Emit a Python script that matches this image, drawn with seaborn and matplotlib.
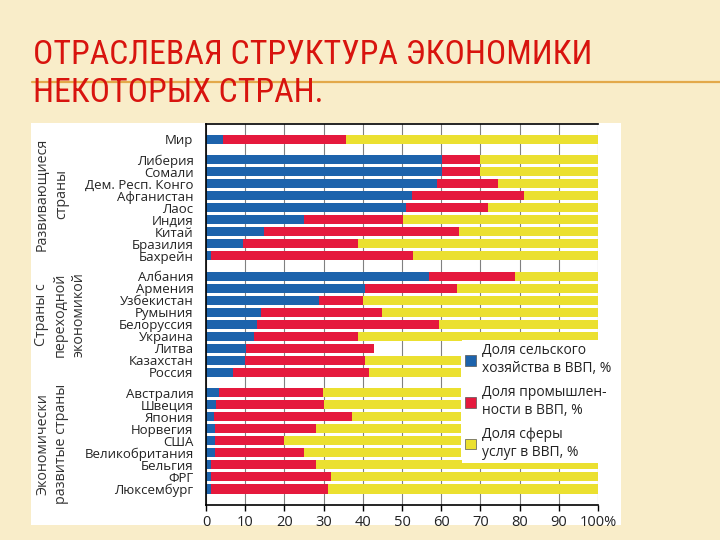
import numpy as np
import pandas as pd
import seaborn as sns
import matplotlib.pyplot as plt
from matplotlib.patches import Rectangle, Patch
from matplotlib.lines import Line2D

sns.set_style('white')
plt.rcParams['font.family'] = ['Open Sans', 'DejaVu Sans']

# shares of GDP, %
countries = ['Мир',
             'Либерия', 'Сомали', 'Дем. Респ. Конго', 'Афганистан', 'Лаос',
             'Индия', 'Китай', 'Бразилия', 'Бахрейн',
             'Албания', 'Армения', 'Узбекистан', 'Румыния', 'Белоруссия',
             'Украина', 'Литва', 'Казахстан', 'Россия',
             'Австралия', 'Швеция', 'Япония', 'Норвегия', 'США',
             'Великобритания', 'Бельгия', 'ФРГ', 'Люксембург']
groups = (['world'] + ['developing'] * 9 + ['transition'] * 9 + ['developed'] * 9)
agri = [4.3,
        60.3, 60.3, 59.0, 52.6, 51.0, 25.0, 14.7, 9.4, 1.3,
        57.0, 40.5, 28.7, 14.0, 13.0, 12.2, 10.2, 10.0, 7.0,
        3.2, 2.6, 2.1, 2.3, 2.3, 2.3, 1.3, 1.4, 1.4]
industry = [31.5,
            9.6, 9.7, 15.4, 28.4, 21.0, 25.3, 49.9, 29.5, 51.6,
            21.7, 23.5, 11.3, 31.0, 46.5, 26.6, 32.6, 30.5, 34.5,
            26.6, 27.4, 35.1, 25.8, 17.5, 22.7, 26.8, 30.6, 29.8]
# visible part of the services bar (rows under the legend are cut at 65 %)
services = [64.2,
            30.1, 30.0, 25.6, 19.0, 28.0, 49.7, 35.4, 61.1, 47.1,
            21.3, 36.0, 60.0, 55.0, 40.5, 61.2, 0.0, 24.5, 23.5,
            35.2, 35.0, 27.8, 36.9, 45.2, 40.0, 71.9, 68.0, 68.8]

blue = '#1d63ac'
red = '#e5193d'
yellow = '#ebe030'
bg = '#f9edc9'

df = pd.DataFrame({'country': countries, 'group': groups,
                   'agri': agri, 'industry': industry, 'services': services})
# one step per row plus an extra gap between groups
df['pos'] = np.arange(len(df)) + 0.7 * pd.factorize(df['group'])[0]
df['ind_end'] = df['agri'] + df['industry']
df['serv_end'] = df['ind_end'] + df['services']

fig = plt.figure(figsize=(7.2, 5.4), dpi=100, facecolor=bg)
fig.patches.append(Rectangle((31 / 720, 15 / 540), 590 / 720, 402 / 540,
                             transform=fig.transFigure, facecolor='white',
                             edgecolor='none', zorder=-5))
fig.lines.append(Line2D([0.045, 1.0], [0.848, 0.848], transform=fig.transFigure,
                        color='#e3a94a', lw=1.6, zorder=-4))

title_font = ['Liberation Sans Narrow', 'Roboto Condensed', 'Roboto']
t1 = fig.text(33 / 720, 1 - 64 / 540, 'ОТРАСЛЕВАЯ СТРУКТУРА ЭКОНОМИКИ',
              family=title_font, fontsize=26, color='#d8140e', va='baseline')
t2 = fig.text(33 / 720, 1 - 102 / 540, 'НЕКОТОРЫХ СТРАН.',
              family=title_font, fontsize=26, color='#d8140e', va='baseline')
# fit the first title line close to its width in the slide (~622 px)
fig.canvas.draw()
fs = 0.9 * 26 * 622 / t1.get_window_extent().width
t1.set_fontsize(fs)
t2.set_fontsize(fs)

ax = fig.add_axes([206 / 720, 35 / 540, 392 / 720, 381 / 540])
ax.set_facecolor('white')
ax.set_axisbelow(True)

for col, c in [('serv_end', yellow), ('ind_end', red), ('agri', blue)]:
    sns.barplot(data=df, x=col, y='pos', orient='h', native_scale=True,
                color=c, saturation=1, width=0.75, errorbar=None,
                linewidth=0, ax=ax)

ax.set_ylim(df['pos'].iloc[-1] + 1.33, -1.25)
ax.set_yticks(df['pos'], df['country'])
ax.tick_params(axis='y', length=0, pad=9, labelsize=9.5, labelcolor='#222222')

ax.set_xlim(0, 100)
ticks = list(range(0, 101, 10))
ax.set_xticks(ticks, [str(t) for t in ticks[:-1]] + ['100%'])
ax.tick_params(axis='x', direction='out', length=4, width=1, color='black',
               labelsize=10.5, labelcolor='#222222', pad=3, bottom=True)
ax.xaxis.grid(True, color='#808080', lw=0.8)
ax.yaxis.grid(False)
ax.set_xlabel('')
ax.set_ylabel('')
for side in ['left', 'top', 'bottom']:
    ax.spines[side].set_visible(True)
    ax.spines[side].set_color('black')
    ax.spines[side].set_linewidth(1.2)
ax.spines['right'].set_visible(False)

handles = [Patch(facecolor=blue, edgecolor='#555555', lw=0.5),
           Patch(facecolor=red, edgecolor='#555555', lw=0.5),
           Patch(facecolor=yellow, edgecolor='#555555', lw=0.5)]
labels = ['Доля сельского\nхозяйства в ВВП, %',
          'Доля промышлен-\nности в ВВП, %',
          'Доля сферы\nуслуг в ВВП, %']
leg = ax.legend(handles, labels, loc='upper left', bbox_to_anchor=(0.652, 0.433),
                frameon=True, facecolor='white', edgecolor='none', framealpha=1,
                fontsize=10, handlelength=0.8, handleheight=0.8,
                handletextpad=0.4, labelspacing=0.7, borderpad=0.25,
                borderaxespad=0, fancybox=False)
for t in leg.get_texts():
    t.set_color('#222222')

group_labels = [('Развивающиеся\nстраны', 52, 194),
                ('Страны с\nпереходной\nэкономикой', 60, 315),
                ('Экономически\nразвитые страны', 52, 444)]
for txt, x, y in group_labels:
    fig.text(x / 720, 1 - y / 540, txt, rotation=90, ha='center', va='center',
             multialignment='center', fontsize=10.3, color='#333333', linespacing=1.35)

fig.savefig('out.png', dpi=100, facecolor=bg)
